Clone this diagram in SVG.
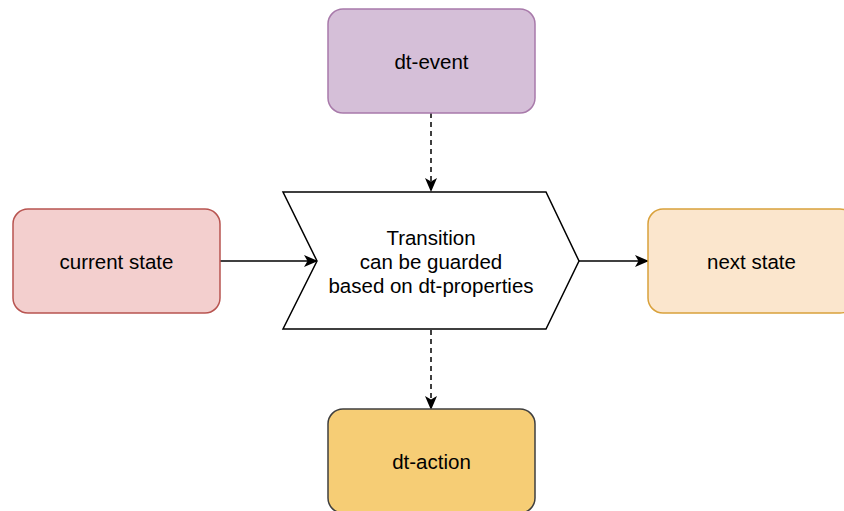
<svg xmlns="http://www.w3.org/2000/svg" width="844" height="511" viewBox="0 0 844 511">
<style>
  .lbl { font-family: "Liberation Sans", Arial, sans-serif; font-size: 20.5px; fill: #000; text-anchor: middle; dominant-baseline: central; }
  .edge { fill: none; stroke: #000; stroke-width: 1.5; }
  .dash { stroke-dasharray: 5 4; }
  .box { stroke-width: 1.5; }
</style>
<defs>
  <marker id="arr" viewBox="0 0 14 14" refX="13" refY="7" markerWidth="14" markerHeight="14" markerUnits="userSpaceOnUse" orient="auto">
    <path d="M0,1 L14,7 L0,13 L3.5,7 Z" fill="#000"/>
  </marker>
</defs>
<rect width="844" height="511" fill="#fff"/>
<g id="connectors">
  <line class="edge dash" x1="431" y1="113" x2="431" y2="191" marker-end="url(#arr)"/>
  <line class="edge" x1="220" y1="261" x2="317" y2="261" marker-end="url(#arr)"/>
  <line class="edge" x1="579" y1="261" x2="648" y2="261" marker-end="url(#arr)"/>
  <line class="edge dash" x1="431" y1="330" x2="431" y2="409" marker-end="url(#arr)"/>
</g>
<g id="dt-event">
  <rect class="box" x="328" y="9" width="207" height="104" rx="15" fill="#d5bfd8" stroke="#a87aaa"/>
  <text class="lbl" x="431.5" y="61">dt-event</text>
</g>
<g id="transition">
  <polygon points="283,192 546,192 579,261 546,329 283,329 317,261" fill="#fff" stroke="#000" stroke-width="1.5"/>
  <text class="lbl" x="431" y="237">Transition</text>
  <text class="lbl" x="431" y="261.5">can be guarded</text>
  <text class="lbl" x="431" y="285.5">based on dt-properties</text>
</g>
<g id="current-state">
  <rect class="box" x="13" y="209" width="207" height="104" rx="15" fill="#f3cfce" stroke="#b85450"/>
  <text class="lbl" x="116.5" y="261">current state</text>
</g>
<g id="next-state">
  <rect class="box" x="648" y="209" width="207" height="104" rx="15" fill="#fbe6cd" stroke="#d9a13b"/>
  <text class="lbl" x="751.5" y="261">next state</text>
</g>
<g id="dt-action">
  <rect class="box" x="328" y="409" width="207" height="104" rx="15" fill="#f6cd75" stroke="#3f3f3f"/>
  <text class="lbl" x="431.5" y="461">dt-action</text>
</g>
</svg>
